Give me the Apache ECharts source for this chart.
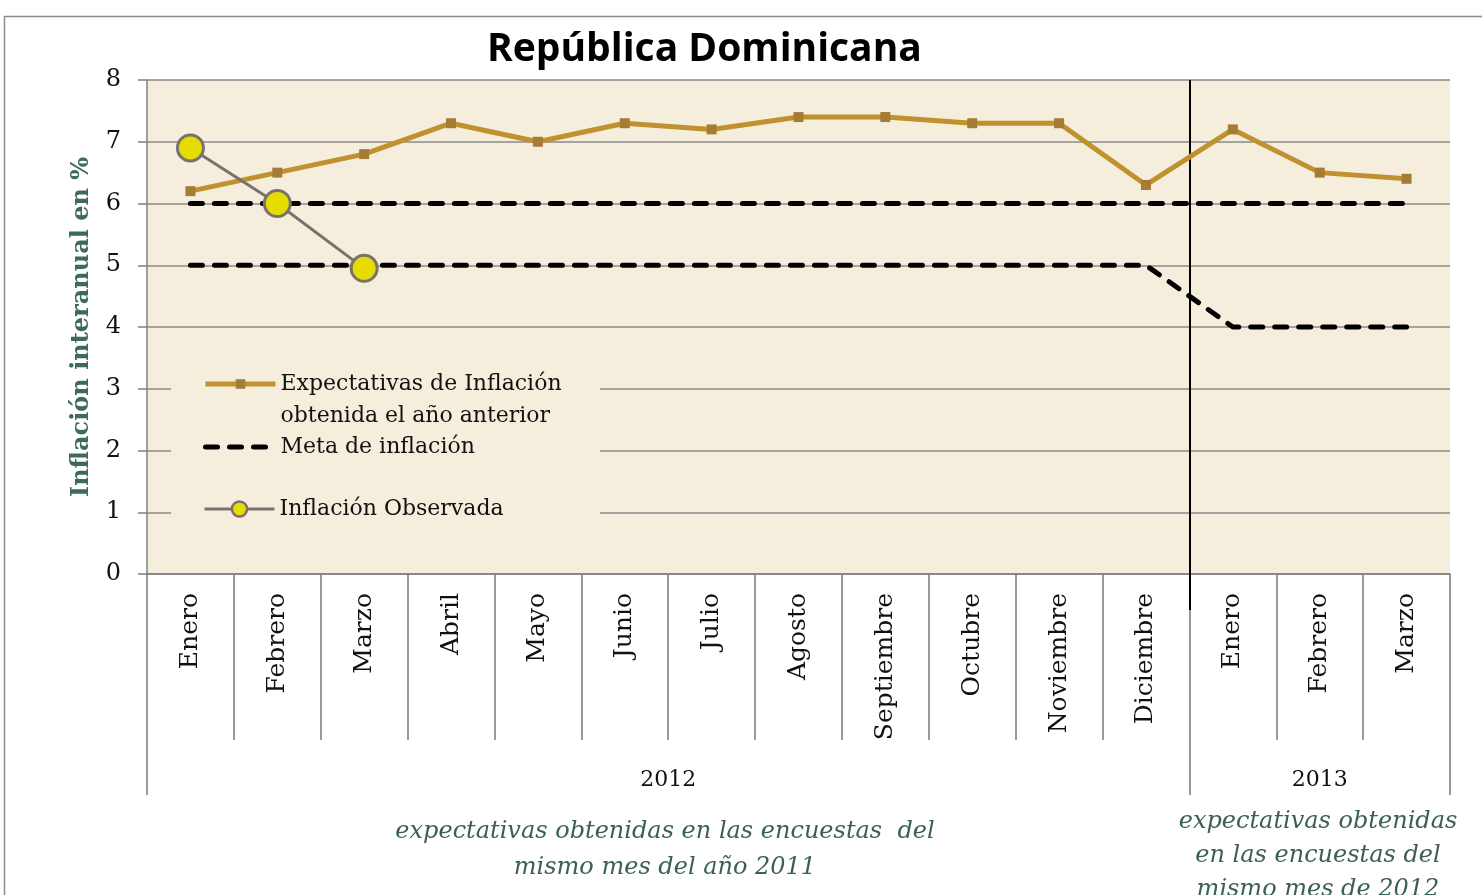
<!DOCTYPE html>
<html>
<head>
<meta charset="utf-8">
<script src="https://cdn.jsdelivr.net/npm/echarts@6/dist/echarts.min.js"></script>
<style>
html,body{margin:0;padding:0;background:#fff;}
#chart{width:1482px;height:895px;}
</style>
</head>
<body>
<div id="chart"></div>
<script>
const categorias = ['Enero','Febrero','Marzo','Abril','Mayo','Junio','Julio','Agosto','Septiembre','Octubre','Noviembre','Diciembre','Enero','Febrero','Marzo'];
const expectativas = [6.2, 6.5, 6.8, 7.3, 7.0, 7.3, 7.2, 7.4, 7.4, 7.3, 7.3, 6.3, 7.2, 6.5, 6.4];
const metaAlta = [6, 6, 6, 6, 6, 6, 6, 6, 6, 6, 6, 6, 6, 6, 6];
const metaBaja = [5, 5, 5, 5, 5, 5, 5, 5, 5, 5, 5, 5, 4, 4, 4];
const observada = [6.9, 6.0, 4.95];
const anios = ['2012', '2013'];
const anioCentros = [6, 13.5];
const anioLimites = [0, 12, 15];
const yTicks = ['0','1','2','3','4','5','6','7','8'];

const nombreExp = 'Expectativas de Inflación obtenida el año anterior';
const nombreMeta = 'Meta de inflación';
const nombreObs = 'Inflación Observada';

const serif = 'DejaVu Serif';
const chart = echarts.init(document.getElementById('chart'));

const legendBase = {
  orient: 'vertical', left: 203, padding: 0, itemWidth: 70, itemGap: 0,
  selectedMode: false,
  textStyle: { fontFamily: serif, fontSize: 22, color: '#111', lineHeight: 32 }
};

chart.setOption({
  backgroundColor: '#fff',
  animation: false,
  title: {
    text: 'República Dominicana', left: 482, top: 25,
    textStyle: { fontFamily: 'Open Sans', fontWeight: 'bold', fontSize: 39, color: '#000' }
  },
  grid: {
    left: 147, right: 32, top: 80, bottom: 321,
    show: true, backgroundColor: '#F5EEDD', borderWidth: 0
  },
  legend: [
    Object.assign({}, legendBase, {
      top: 336, itemHeight: 12, data: [nombreExp],
      lineStyle: { width: 5 },
      formatter: () => '\nExpectativas de Inflación\nobtenida el año anterior'
    }),
    Object.assign({}, legendBase, {
      top: 431, itemHeight: 12, data: [nombreMeta],
      lineStyle: { width: 5 },
      itemStyle: { opacity: 0 }
    }),
    Object.assign({}, legendBase, {
      top: 493, itemHeight: 19, data: [nombreObs],
      lineStyle: { width: 3 },
      itemStyle: { borderWidth: 2.5 }
    })
  ],
  xAxis: [
    {
      type: 'category', data: categorias, position: 'bottom', boundaryGap: true,
      axisLine: { show: true, lineStyle: { color: '#808080', width: 1.5 } },
      axisTick: { show: true, interval: 0, length: 166, lineStyle: { color: '#7a7a7a', width: 1.5 } },
      axisLabel: { interval: 0, rotate: 90, margin: 19, fontFamily: serif, fontSize: 25, color: '#111' },
      splitLine: { show: false }
    },
    {
      type: 'value', min: 0, max: 15, position: 'bottom',
      axisLine: { show: false },
      axisTick: { show: true, customValues: anioLimites, length: 221, lineStyle: { color: '#7a7a7a', width: 1.5 } },
      axisLabel: {
        show: true, customValues: anioCentros, margin: 195,
        formatter: v => anios[anioCentros.indexOf(v)] || '',
        fontFamily: serif, fontSize: 22, color: '#111'
      },
      splitLine: { show: false }
    },
    {
      type: 'value', min: 0, max: 15, position: 'top',
      axisLine: { show: false },
      axisTick: { show: true, inside: true, customValues: [anioLimites[1]], length: 530, lineStyle: { color: '#000', width: 2 } },
      axisLabel: { show: false },
      splitLine: { show: false }
    }
  ],
  yAxis: {
    type: 'value', min: 0, max: 8, interval: 1,
    name: 'Inflación interanual en %', nameLocation: 'middle', nameGap: 53, nameRotate: 90,
    nameTextStyle: { fontFamily: serif, fontWeight: 'bold', fontSize: 24, color: '#3E6B56' },
    axisLine: { show: true, lineStyle: { color: '#808080', width: 1.5 } },
    axisTick: { show: true, length: 9, lineStyle: { color: '#808080', width: 1.5 } },
    axisLabel: { margin: 26, fontFamily: serif, fontSize: 24, color: '#111', formatter: v => yTicks[v] },
    splitLine: { show: true, lineStyle: { color: '#8a8a8a', width: 1.5 } }
  },
  graphic: [
    { type: 'rect', z: 1, shape: { x: 171, y: 350, width: 429, height: 178 }, style: { fill: '#F5EEDD' } },
    { type: 'rect', z: 0, shape: { x: 4.5, y: 16.5, width: 1600, height: 1000 }, style: { fill: null, stroke: '#8c8c8c', lineWidth: 1.5 } },
    { type: 'text', z: 5, x: 665, y: 814, style: {
      text: 'expectativas obtenidas en las encuestas  del\nmismo mes del año 2011',
      align: 'center', verticalAlign: 'top', lineHeight: 36,
      font: 'italic 24px "DejaVu Serif"', fill: '#3B6152' } },
    { type: 'text', z: 5, x: 1318, y: 805, style: {
      text: 'expectativas obtenidas\nen las encuestas del\nmismo mes de 2012',
      align: 'center', verticalAlign: 'top', lineHeight: 34,
      font: 'italic 24px "DejaVu Serif"', fill: '#3B6152' } }
  ],
  series: [
    {
      name: nombreExp, type: 'line', data: expectativas, z: 3,
      symbol: 'rect', symbolSize: 10,
      lineStyle: { color: '#C0912F', width: 5 },
      itemStyle: { color: '#A67C35' }
    },
    {
      name: nombreMeta, type: 'line', data: metaAlta, z: 2,
      symbol: 'none',
      lineStyle: { color: '#000', width: 5, type: [12, 12], cap: 'round' },
      itemStyle: { color: '#000' }
    },
    {
      name: nombreMeta, type: 'line', data: metaBaja, z: 2,
      symbol: 'none',
      lineStyle: { color: '#000', width: 5, type: [12, 12], cap: 'round', join: 'round' },
      itemStyle: { color: '#000' }
    },
    {
      name: nombreObs, type: 'line', data: observada, z: 4,
      symbol: 'circle', symbolSize: 26,
      lineStyle: { color: '#7A716E', width: 3 },
      itemStyle: { color: '#E6DC00', borderColor: '#7A716E', borderWidth: 3 }
    }
  ]
});
</script>
</body>
</html>
